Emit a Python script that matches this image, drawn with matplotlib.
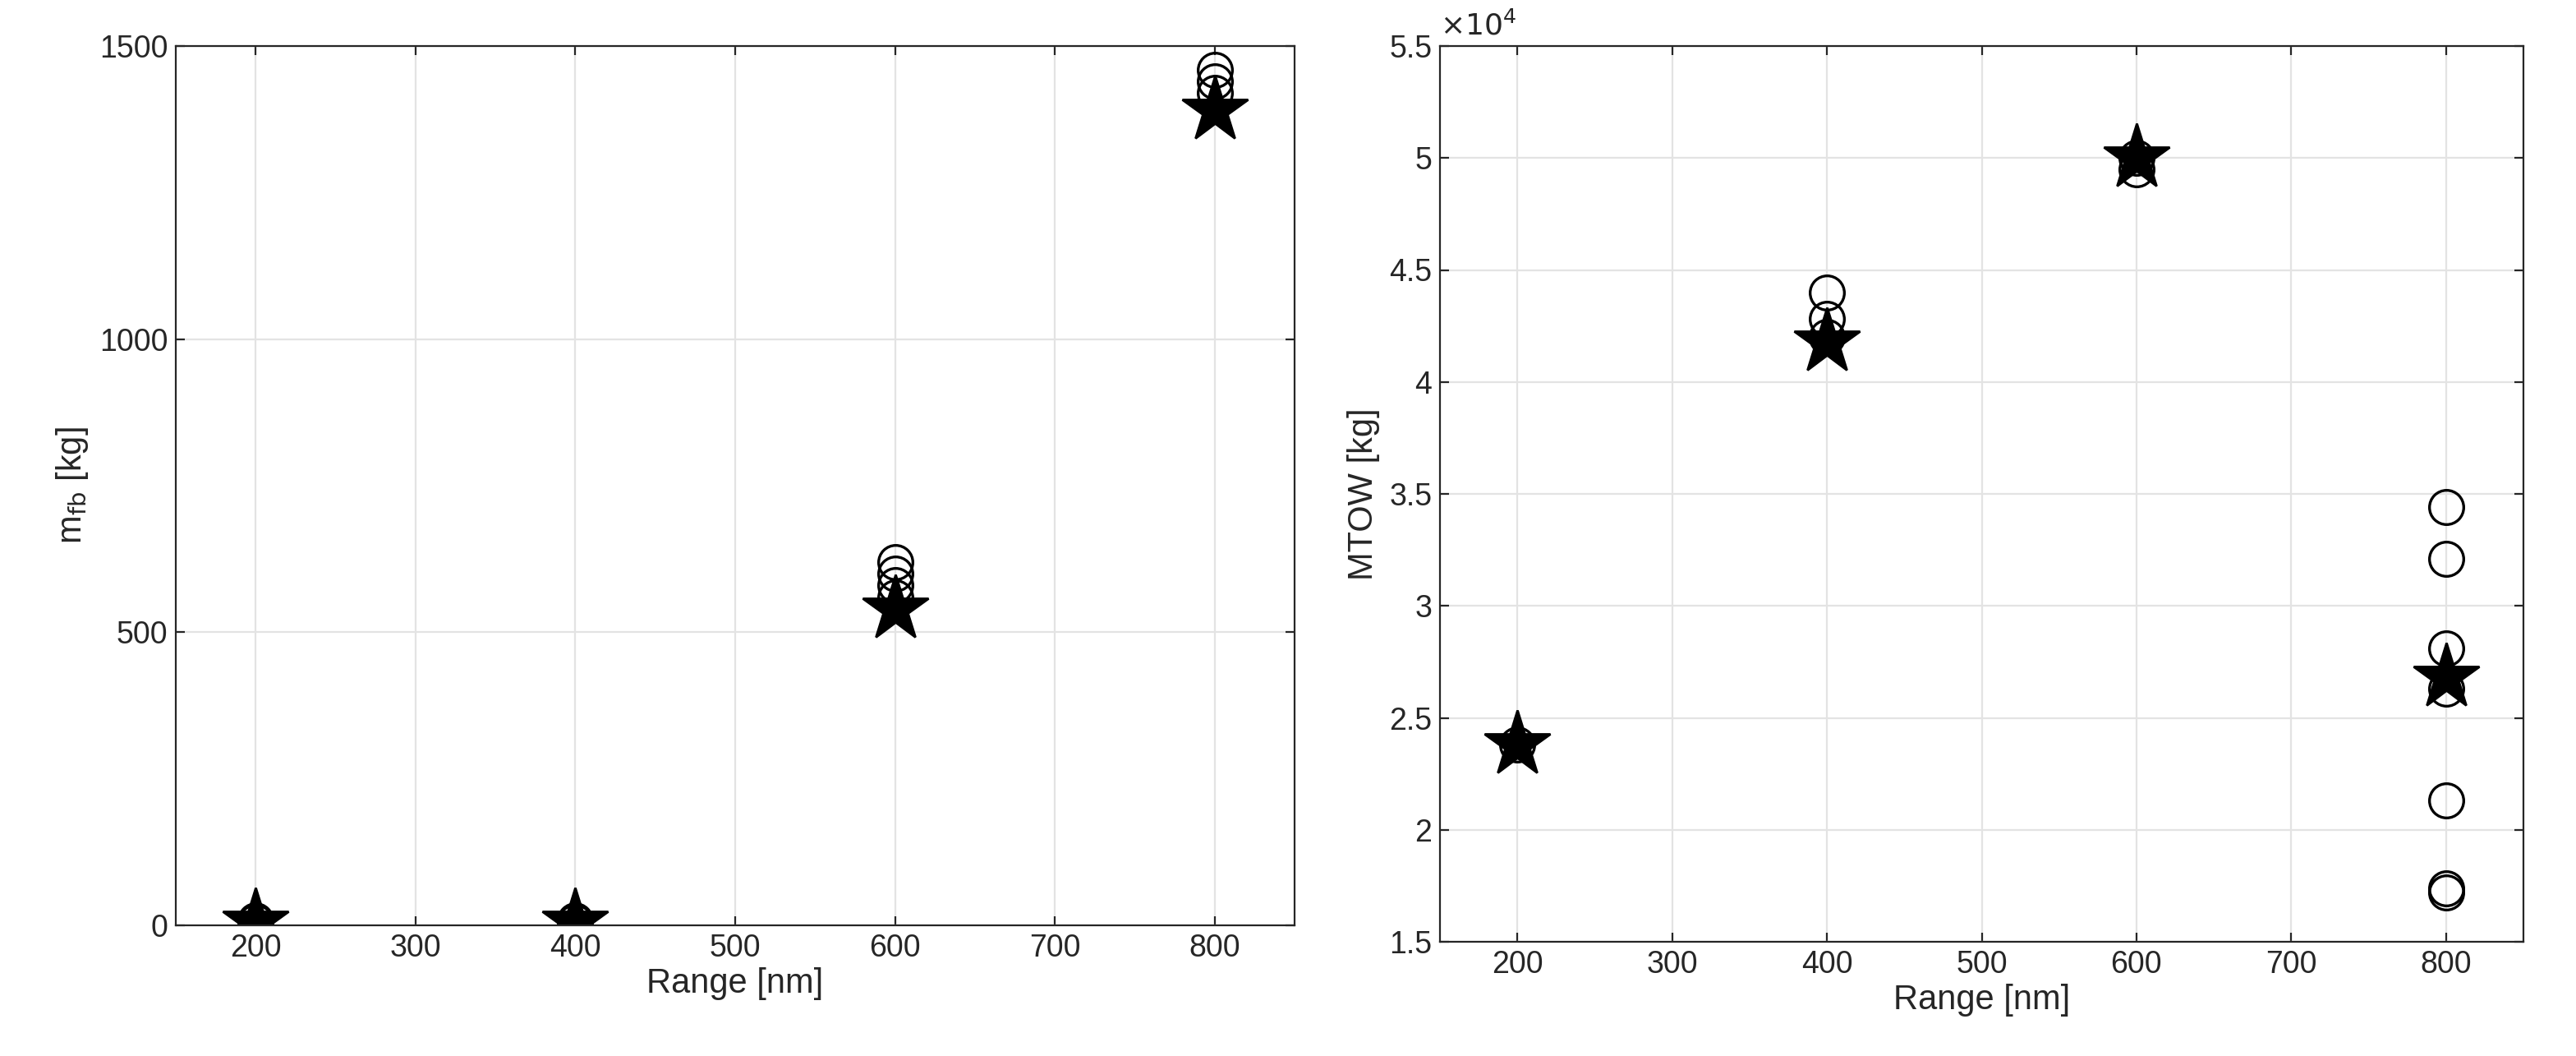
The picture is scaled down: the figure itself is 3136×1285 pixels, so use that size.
import matplotlib
matplotlib.use("Agg")
import matplotlib.pyplot as plt
from matplotlib.ticker import FuncFormatter

plt.rcParams['font.family'] = ['Liberation Sans', 'DejaVu Sans']

# Left: fuel burn
range_circ_l = [200, 200, 400, 400, 600, 600, 600, 600, 800, 800, 800]
mfb_circ = [5, 8, 5, 8, 620, 600, 580, 560, 1460, 1440, 1420]
range_star_l = [200, 400, 600, 800]
mfb_star = [5, 5, 540, 1390]

# Right: MTOW (x1e4 kg)
range_circ_r = [200, 400, 400, 400, 600, 600, 800, 800, 800, 800, 800, 800, 800]
mtow_circ = [2.38, 4.40, 4.28, 4.20, 5.00, 4.95, 3.44, 3.21, 2.81, 2.63, 2.13, 1.74, 1.72]
range_star_r = [200, 400, 600, 800]
mtow_star = [2.38, 4.18, 5.00, 2.68]

W, H = 3136, 1285
fig = plt.figure(figsize=(W/200, H/200), dpi=200)
axL = fig.add_axes([214/W, 1-1126/H, (1576-214)/W, (1126-56)/H])
axR = fig.add_axes([1753/W, 1-1146/H, (3072-1753)/W, (1146-56)/H])

for ax in (axL, axR):
    ax.grid(True, color='#e3e3e3', linewidth=0.8)
    ax.set_axisbelow(True)
    for s in ax.spines.values():
        s.set_color('#262626'); s.set_linewidth(0.8)
    ax.tick_params(direction='in', length=4, colors='#262626', labelsize=13.5, top=True, right=True, labeltop=False, labelright=False)
    ax.set_xlim(150, 850)
    ax.set_xticks([200, 300, 400, 500, 600, 700, 800])
    ax.set_xlabel('Range [nm]', fontsize=15, color='#262626', labelpad=2)

axL.plot(range_circ_l, mfb_circ, 'o', mfc='none', mec='black', ms=15, mew=1.2)
axL.plot(range_star_l, mfb_star, '*', color='black', ms=30)
axL.set_ylim(0, 1500)
axL.set_yticks([0, 500, 1000, 1500])
axL.set_ylabel(r'm$_{\mathrm{fb}}$ [kg]', fontsize=15, color='#262626')

axR.plot(range_circ_r, mtow_circ, 'o', mfc='none', mec='black', ms=15, mew=1.2)
axR.plot(range_star_r, mtow_star, '*', color='black', ms=30)
axR.set_ylim(1.5, 5.5)
axR.set_yticks([1.5, 2, 2.5, 3, 3.5, 4, 4.5, 5, 5.5])
axR.yaxis.set_major_formatter(FuncFormatter(lambda v, p: f'{v:g}'))
axR.set_ylabel('MTOW [kg]', fontsize=15, color='#262626')
axR.text(0.0, 1.005, r'$\times10^4$', transform=axR.transAxes, fontsize=13, color='#262626', ha='left', va='bottom')

fig.savefig('out.png', dpi=200)
